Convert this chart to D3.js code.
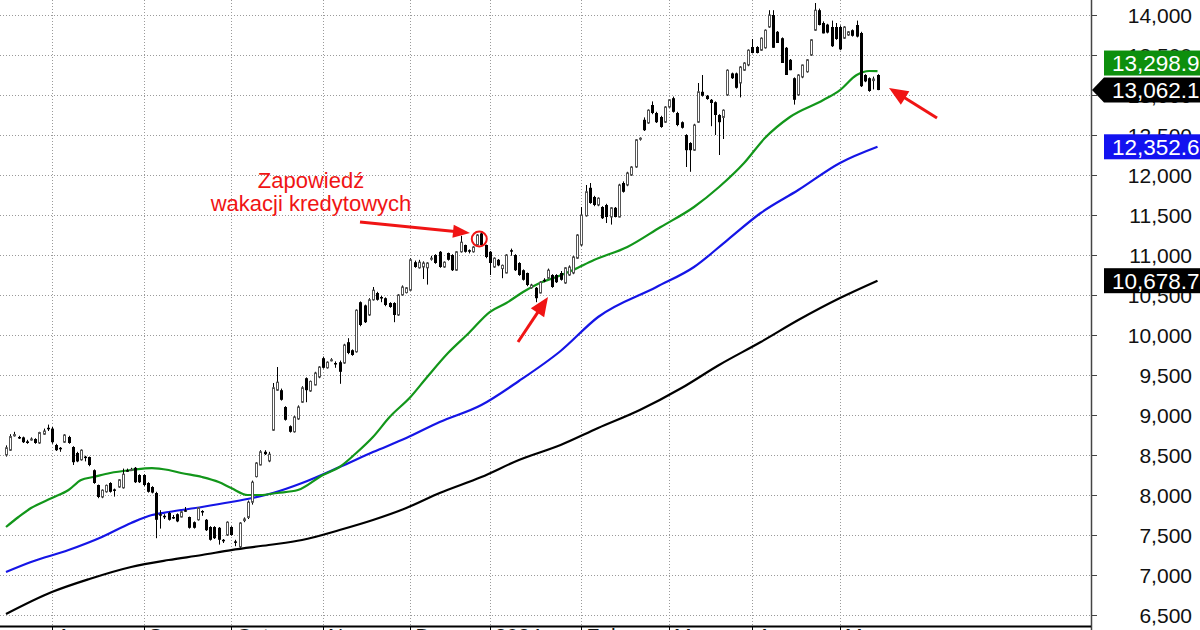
<!DOCTYPE html>
<html><head><meta charset="utf-8">
<script src="https://cdn.jsdelivr.net/npm/d3@7/dist/d3.min.js"></script>
<style>body{margin:0;background:#fff;} svg{display:block;font-family:"Liberation Sans",Arial,sans-serif;}</style>
</head><body><svg id="c" width="1200" height="630"></svg>
<script>
// ---- DATA ----
// daily candles [open, high, low, close], Jul 2023 .. May 2024
const candles = [
 // Jul (11)
 [8500,8620,8480,8590],[8560,8760,8550,8730],[8740,8790,8730,8755],[8725,8740,8700,8715],[8720,8730,8650,8660],
 [8670,8690,8640,8650],[8690,8720,8680,8700],[8700,8710,8640,8650],[8650,8790,8640,8780],[8760,8830,8750,8800],
 [8840,8880,8800,8830],
 // Aug (22)
 [8830,8850,8640,8660],[8625,8640,8550,8560],[8590,8600,8540,8580],[8660,8760,8650,8750],[8725,8740,8640,8650],
 [8600,8610,8375,8410],[8525,8540,8410,8420],[8440,8570,8430,8560],[8480,8490,8420,8475],[8475,8480,8360,8375],
 [8310,8320,8140,8150],[8125,8130,7960,7975],[7975,8070,7960,8060],[8040,8130,8030,8120],[8150,8160,8030,8040],
 [8070,8080,7980,8060],[8100,8200,8090,8190],[8090,8330,8080,8260],[8310,8330,8290,8305],[8320,8340,8300,8320],
 [8340,8350,8150,8160],[8250,8260,8150,8160],
 // Sep (21)
 [8250,8260,8110,8125],[8150,8160,8030,8040],[8100,8110,8020,8030],[8025,8040,7460,7690],[7760,7810,7580,7750],
 [7740,7760,7700,7735],[7775,7790,7680,7690],[7725,7750,7700,7720],[7760,7770,7660,7670],[7725,7800,7720,7790],
 [7810,7850,7790,7805],[7725,7730,7580,7590],[7660,7670,7580,7590],[7690,7850,7680,7840],[7800,7810,7740,7795],
 [7690,7700,7550,7560],[7600,7610,7430,7440],[7600,7610,7450,7460],[7590,7600,7380,7440],[7440,7450,7400,7435],
 [7500,7670,7490,7660],
 // Oct (22)
 [7600,7610,7490,7500],[7420,7440,7360,7415],[7350,7660,7330,7650],[7680,7720,7660,7700],[7720,7930,7700,7910],
 [7910,8180,7880,8160],[8230,8410,8220,8400],[8375,8560,8370,8540],[8540,8560,8500,8510],[8425,8540,8410,8510],
 [8810,9400,8800,9340],[9310,9600,9300,9410],[9310,9330,9180,9190],[9100,9110,8930,8940],[8860,8870,8780,8790],
 [8790,8990,8780,8975],[8950,9120,8940,9100],[9160,9360,9150,9340],[9460,9470,9160,9310],[9300,9430,9290,9420],
 [9375,9540,9370,9525],[9475,9610,9460,9600],
 // Nov (21)
 [9710,9730,9580,9590],[9590,9670,9580,9660],[9690,9710,9670,9690],[9650,9670,9590,9645],[9660,9680,9390,9540],
 [9650,9890,9640,9875],[9910,9960,9760,9775],[9810,9820,9740,9750],[9790,10320,9780,10310],[10410,10420,10110,10125],
 [10370,10380,10150,10160],[10250,10460,10240,10440],[10440,10600,10430,10560],[10525,10540,10430,10440],[10475,10490,10410,10470],
 [10460,10470,10360,10375],[10400,10410,10340,10350],[10400,10410,10160,10250],[10250,10510,10240,10500],[10500,10620,10490,10600],
 [10530,10600,10520,10590],
 // Dec (19)
 [10560,10960,10550,10940],[10910,10930,10840,10850],[10840,10940,10830,10910],[10850,10920,10700,10900],[10840,10910,10630,10900],
 [10950,10990,10930,10960],[11000,11010,10890,10900],[11040,11050,10840,10850],[10850,10920,10840,10910],[11025,11030,10930,10940],
 [11000,11010,10800,10810],[10810,11050,10800,11040],[11040,11240,11030,11160],[11125,11130,11030,11040],[11060,11070,11020,11055],
 [11040,11110,11030,11100],[11125,11260,11120,11250],[11270,11290,11110,11125],[11125,11130,10960,10975],
 // Jan (22)
 [11040,11050,10750,10900],[10850,10970,10840,10960],[10940,10950,10860,10870],[10830,10880,10710,10870],[10775,11010,10770,11000],
 [11060,11080,10990,11055],[11000,11010,10800,10810],[10900,10910,10740,10750],[10810,10820,10680,10690],[10775,10780,10610,10625],
 [10590,10640,10580,10625],[10590,10600,10410,10460],[10525,10670,10520,10660],[10690,10710,10660,10685],[10710,10830,10700,10810],
 [10750,10760,10590,10600],[10750,10760,10650,10660],[10775,10800,10680,10690],[10650,10850,10640,10840],[10750,10870,10740,10850],
 [10775,10990,10760,10975],[10960,11260,10950,11250],
 // Feb (21)
 [11125,11600,11110,11500],[11490,11875,11480,11790],[11840,11900,11640,11650],[11725,11740,11610,11625],[11625,11720,11610,11710],
 [11600,11610,11450,11460],[11625,11640,11400,11475],[11475,11600,11380,11590],[11590,11600,11470,11475],[11475,11890,11470,11875],
 [11900,11920,11780,11790],[11875,12040,11860,12025],[12000,12110,11990,12100],[12100,12450,12090,12440],[12450,12470,12430,12460],
 [12690,12720,12550,12560],[12650,12820,12640,12810],[12875,12920,12760,12775],[12775,12790,12650,12660],[12725,12740,12590,12600],
 [12660,12860,12650,12850],
 // Mar (20)
 [12850,12950,12840,12940],[12960,12980,12780,12790],[12775,12790,12610,12625],[12660,12670,12580,12590],[12500,12510,12100,12310],
 [12400,12410,12040,12310],[12310,12640,12300,12625],[12660,13150,12650,13040],[13040,13250,12980,12990],[12990,13000,12940,12950],
 [12940,12950,12610,12900],[12910,12920,12500,12750],[12750,12760,12250,12660],[12720,12820,12450,12810],[13000,13320,12990,13310],
 [13270,13280,13200,13210],[13270,13280,13080,13090],[13150,13360,12970,13350],[13310,13410,13300,13400],[13375,13570,13360,13560],
 // Apr (21)
 [13600,13700,13520,13525],[13600,13610,13520,13525],[13560,13720,13550,13710],[13590,13820,13580,13810],[13850,14060,13840,14000],
 [14000,14060,13590,13590],[13790,13800,13650,13650],[13710,13720,13400,13400],[13590,13600,13250,13250],[13440,13450,13310,13310],
 [13210,13220,12880,12940],[13000,13260,12990,13250],[13225,13380,13210,13375],[13290,13450,13280,13440],[13500,13700,13490,13690],
 [13810,14150,13800,14060],[14060,14080,13870,13875],[13900,13920,13770,13770],[13880,13890,13770,13780],[13850,13930,13600,13610],
 [13850,13900,13690,13700],
 // May (10)
 [13850,13870,13560,13570],[13710,13860,13700,13850],[13750,13800,13740,13790],[13810,13820,13730,13740],[13875,13930,13720,13730],
 [13775,13790,13100,13110],[13250,13260,13160,13170],[13210,13220,13040,13050],[13180,13230,13070,13200],[13250,13260,13060,13062.1]
];

// moving averages read at sampled candle indices
const greenIdx = [0,3,6,11,15,18,21,25,30,35,39,42,47,51,54,58,61,65,70,76,80,84,88,92,97,101,106,111,116,120,124,128,132,136,141,149,157,165,171,177,182,188,196,200,204,207,209];
const greenVal = [7600,7725,7837,7962,8062,8187,8225,8275,8312,8337,8312,8275,8225,8162,8087,8000,8000,8025,8062,8250,8350,8525,8725,8975,9225,9475,9775,10025,10287,10400,10537,10650,10725,10812,10937,11100,11350,11600,11850,12150,12462,12725,12937,13062,13250,13300,13298.9];
const blueIdx = [0,6,15,23,30,35,39,47,54,59,64,71,80,88,96,104,114,123,133,142,156,165,173,181,190,200,209];
const blueVal = [7037,7162,7312,7475,7650,7750,7787,7850,7912,7962,8025,8150,8350,8537,8712,8912,9125,9425,9800,10225,10600,10850,11187,11525,11812,12150,12352.6];
const blackIdx = [0,11,20,30,39,47,54,63,71,80,88,96,104,114,123,133,142,152,162,171,181,190,200,209];
const blackVal = [6512,6787,6950,7100,7187,7250,7312,7375,7437,7562,7687,7837,8025,8225,8437,8625,8837,9062,9337,9625,9912,10187,10462,10678.7];

const monthLabels = ["Aug","Sep","Oct","Nov","Dec","2024","Feb","Mar","Apr","May"];
const monthStart  = [11,33,54,76,97,116,138,159,179,200];
const yTicks = [6500,7000,7500,8000,8500,9000,9500,10000,10500,11000,11500,12000,12500,13000,13500,14000];

const noteLines = ["Zapowiedź","wakacji kredytowych"];

// ---- CHART ----
const svg = d3.select("#c");
const W = 1200, H = 630, plotR = 1091, plotB = 626;
const x = d3.scaleLinear().domain([0, candles.length-1]).range([6, 877.5]);
const y = d3.scaleLinear().domain([6362.5, 14187.5]).range([plotB, 0]);

svg.append("rect").attr("width",W).attr("height",H).attr("fill","#fff");

// grid
const grid = svg.append("g").attr("stroke","#9a9a9a").attr("stroke-width",1).attr("stroke-dasharray","1,2");
grid.selectAll("line.h").data(yTicks).join("line")
  .attr("x1",0).attr("x2",plotR).attr("y1",d=>Math.round(y(d))+0.5).attr("y2",d=>Math.round(y(d))+0.5);
grid.selectAll("line.v").data(monthStart).join("line")
  .attr("x1",d=>Math.round(x(d))+0.5).attr("x2",d=>Math.round(x(d))+0.5).attr("y1",0).attr("y2",plotB);

// moving averages
const line = d3.line().x(d=>x(d[0])).y(d=>y(d[1])).curve(d3.curveMonotoneX);
const ma = [[blackIdx,blackVal,"#000000"],[blueIdx,blueVal,"#1515e6"],[greenIdx,greenVal,"#12961a"]];
ma.forEach(([ix,vals,col])=>{
  svg.append("path").datum(ix.map((d,k)=>[d,vals[k]])).attr("d",line)
    .attr("fill","none").attr("stroke",col).attr("stroke-width",2.2).attr("stroke-linejoin","round");
});

// candles
const cg = svg.append("g");
candles.forEach((c,i)=>{
  const [o,h,l,cl] = c;
  const cx = Math.round(x(i));
  cg.append("line").attr("x1",cx+0.5).attr("x2",cx+0.5).attr("y1",y(h)).attr("y2",y(l))
    .attr("stroke","#000").attr("stroke-width",1);
  const top = y(Math.max(o,cl)), bot = y(Math.min(o,cl));
  const up = cl >= o;
  const hgt = Math.max(1, bot-top);
  if (up) {
    cg.append("rect").attr("x",cx-0.5).attr("y",top).attr("width",2).attr("height",Math.max(1,hgt))
      .attr("fill","#fff").attr("stroke","#555").attr("stroke-width",1);
  } else {
    cg.append("rect").attr("x",cx-1).attr("y",top).attr("width",3).attr("height",Math.max(1.5,hgt))
      .attr("fill","#000");
  }
});

// right axis
svg.append("line").attr("x1",plotR+0.5).attr("x2",plotR+0.5).attr("y1",0).attr("y2",H).attr("stroke","#444").attr("stroke-width",1.5);
svg.selectAll("line.tk").data(yTicks).join("line")
  .attr("x1",plotR).attr("x2",plotR+6).attr("y1",d=>Math.round(y(d))+0.5).attr("y2",d=>Math.round(y(d))+0.5)
  .attr("stroke","#444");
svg.selectAll("text.yl").data(yTicks).join("text")
  .attr("x",1192).attr("y",d=>y(d)).attr("dy","0.36em").attr("text-anchor","end")
  .attr("font-size",21).attr("fill","#111").text(d3.format(","));

// bottom axis
svg.append("line").attr("x1",0).attr("x2",plotR).attr("y1",plotB+0.5).attr("y2",plotB+0.5).attr("stroke","#000").attr("stroke-width",2);
svg.selectAll("line.ms").data(monthStart).join("line")
  .attr("x1",d=>Math.round(x(d))+0.5).attr("x2",d=>Math.round(x(d))+0.5).attr("y1",plotB).attr("y2",H).attr("stroke","#000");
svg.selectAll("text.ml").data(monthLabels).join("text")
  .attr("x",(d,k)=>x(monthStart[k])+5).attr("y",plotB+16.5).attr("font-size",21).attr("fill","#111").text(d=>d);

// value tags
const fmt = d3.format(",.1f");
const last = candles[candles.length-1][3];
const tags = [
  {v: blackVal[blackVal.length-1], fill:"#000", arrow:false},
  {v: blueVal[blueVal.length-1], fill:"#1212f0", arrow:false},
  {v: last, fill:"#000", arrow:true},
  {v: greenVal[greenVal.length-1], fill:"#0d8f0d", arrow:false}
];
tags.forEach(t=>t.cy=y(t.v));
// avoid overlap: push upper tag up
tags.sort((a,b)=>b.cy-a.cy);
for(let k=1;k<tags.length;k++){ if(tags[k-1].cy - tags[k].cy < 27) tags[k].cy = tags[k-1].cy - 27; }
tags.forEach(t=>{
  const top=t.cy-12.5, bot=t.cy+12.5;
  if(t.arrow){
    svg.append("path").attr("d",`M${plotR+1},${y(t.v)} L1104,${top} L1200,${top} L1200,${bot} L1104,${bot} Z`).attr("fill",t.fill);
  } else {
    svg.append("rect").attr("x",1104).attr("y",top).attr("width",96).attr("height",25).attr("fill",t.fill);
  }
  svg.append("text").attr("x",1112).attr("y",t.cy).attr("dy","0.36em").attr("font-size",22.5)
    .attr("fill","#fff").text(fmt(t.v));
});

// annotations
const red = "#f01414";
const ann = svg.append("g");
ann.selectAll("text").data(noteLines).join("text")
  .attr("x",311).attr("y",(d,k)=>188+k*23).attr("text-anchor","middle").attr("font-size",22)
  .attr("fill",red).text(d=>d);
function arrow(x1,y1,x2,y2,hl,hw){
  const dx=x2-x1, dy=y2-y1, L=Math.hypot(dx,dy), ux=dx/L, uy=dy/L, px=-uy, py=ux;
  const bx=x2-ux*hl, by=y2-uy*hl;
  ann.append("line").attr("x1",x1).attr("y1",y1).attr("x2",bx+ux*2).attr("y2",by+uy*2)
    .attr("stroke",red).attr("stroke-width",3);
  ann.append("path").attr("d",`M${x2},${y2} L${bx+px*hw},${by+py*hw} L${bx-px*hw},${by-py*hw} Z`).attr("fill",red);
}
arrow(360,222,470,233,17,6.5);
arrow(518,342,548,297,19,8);
arrow(937,118,889,88,19,8);
ann.append("circle").attr("cx",x(113.5)).attr("cy",y(11200)).attr("r",7.5)
  .attr("fill","none").attr("stroke",red).attr("stroke-width",2);
</script></body></html>
